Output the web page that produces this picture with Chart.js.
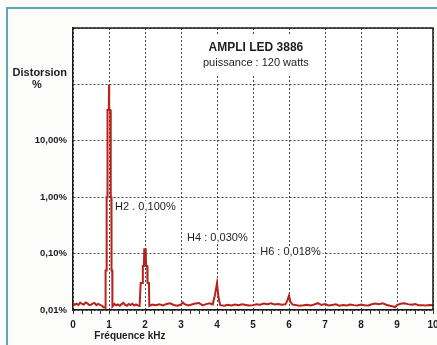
<!DOCTYPE html>
<html>
<head>
<meta charset="utf-8">
<script src="https://cdn.jsdelivr.net/npm/chart.js@4.4.0/dist/chart.umd.min.js"></script>
<style>
  html, body { margin: 0; padding: 0; background: #fcfcfa; }
  #wrap { width: 437px; height: 345px; }
</style>
</head>
<body>
<div id="wrap"><canvas id="thd" width="437" height="345"></canvas></div>
<script>
// spectrum (kHz / % THD)
const freqKHz = [
  0.00, 0.05, 0.10, 0.15, 0.20, 0.25, 0.30, 0.35, 0.40, 0.45, 0.50, 0.55, 0.60, 0.65, 0.70, 0.75, 0.80, 0.85, 0.90,
  0.905, 0.93, 0.935, 0.945, 0.95, 0.96, 0.965, 0.995, 1.00, 1.005, 1.035, 1.04, 1.05, 1.055, 1.065, 1.07, 1.09, 1.095,
  1.15, 1.20, 1.25, 1.30, 1.35, 1.40, 1.45, 1.50, 1.55, 1.60, 1.65, 1.70, 1.75, 1.80, 1.85,
  1.88, 1.93, 1.94, 1.97, 1.98, 2.02, 2.03, 2.06, 2.07, 2.11, 2.12,
  2.20, 2.30, 2.40, 2.50, 2.60, 2.70, 2.80, 2.90, 3.00, 3.05, 3.10, 3.20, 3.30, 3.40, 3.50, 3.60, 3.70, 3.80,
  3.88, 3.94, 4.00, 4.04, 4.09,
  4.20, 4.30, 4.40, 4.50, 4.60, 4.70, 4.80, 4.90, 5.00, 5.10, 5.20, 5.30, 5.40, 5.50, 5.60, 5.70, 5.80,
  5.90, 5.95, 6.00, 6.04, 6.10,
  6.20, 6.30, 6.40, 6.50, 6.60, 6.70, 6.80, 6.90, 7.00, 7.10, 7.20, 7.30, 7.40, 7.50, 7.60, 7.70, 7.80, 7.90,
  8.00, 8.10, 8.20, 8.30, 8.40, 8.50, 8.60, 8.70, 8.80, 8.90, 8.95, 9.00, 9.10, 9.20, 9.30, 9.40, 9.50, 9.60,
  9.70, 9.80, 9.90, 10.00
];
const thdPct = [
  0.0132, 0.0124, 0.0129, 0.0122, 0.0135, 0.0128, 0.0125, 0.0136, 0.0131, 0.0123, 0.0124, 0.0131, 0.0133, 0.0122, 0.0128, 0.0123, 0.0120, 0.0112, 0.0110,
  0.05, 0.05, 1.0, 1.0, 12, 12, 35, 35, 100, 35, 35, 12, 12, 1.0, 1.0, 0.05, 0.05, 0.0115,
  0.0128, 0.0121, 0.0126, 0.0119, 0.0127, 0.0134, 0.0123, 0.0119, 0.0128, 0.0122, 0.0129, 0.0120, 0.0126, 0.0121, 0.0118,
  0.03, 0.03, 0.06, 0.06, 0.12, 0.12, 0.06, 0.06, 0.03, 0.03, 0.0118,
  0.0125, 0.0121, 0.0126, 0.0120, 0.0128, 0.0131, 0.0123, 0.0119, 0.0125, 0.0136, 0.0127, 0.0120, 0.0125, 0.0130, 0.0133, 0.0121, 0.0127, 0.0131,
  0.0125, 0.018, 0.030, 0.017, 0.0122,
  0.0119, 0.0124, 0.0120, 0.0125, 0.0121, 0.0126, 0.0123, 0.0120, 0.0122, 0.0126, 0.0124, 0.0130, 0.0126, 0.0131, 0.0125, 0.0128, 0.0124,
  0.0126, 0.0145, 0.0180, 0.0140, 0.0125,
  0.0122, 0.0119, 0.0121, 0.0124, 0.0120, 0.0125, 0.0132, 0.0123, 0.0127, 0.0120, 0.0123, 0.0126, 0.0119, 0.0122, 0.0120, 0.0125, 0.0122, 0.0120,
  0.0125, 0.0121, 0.0120, 0.0126, 0.0130, 0.0126, 0.0131, 0.0124, 0.0119, 0.0115, 0.0112, 0.0122, 0.0129, 0.0132, 0.0127, 0.0124, 0.0127, 0.0122,
  0.0122, 0.0120, 0.0123, 0.0121
];

const yTickValues = [0.01, 0.1, 1, 10, 100, 1000];
const yTickLabels = ['0,01%', '0,10%', '1,00%', '10,00%', '', ''];
const xTitle = 'Fréquence kHz';
const yTitle = ['Distorsion', '%'];
const chartTitle = ['AMPLI LED 3886', 'puissance : 120 watts'];
const harmonicNotes = ['H2 . 0,100%', 'H4 : 0,030%', 'H6 : 0,018%'];

const points = freqKHz.map((f, i) => ({ x: f, y: thdPct[i] }));

const FONT = '"Liberation Sans", Arial, sans-serif';
const INK = '#1c1c24';

const decor = {
  id: 'decor',
  beforeDraw(chart) {
    const ctx = chart.ctx, a = chart.chartArea;
    ctx.save();
    ctx.fillStyle = '#fcfcfa';
    ctx.fillRect(0, 0, chart.width, chart.height);
    ctx.fillStyle = '#ffffff';
    ctx.fillRect(a.left, a.top, a.right - a.left, a.bottom - a.top);
    // teal page frame
    ctx.strokeStyle = '#5ea7b8';
    ctx.lineWidth = 2;
    ctx.beginPath();
    ctx.moveTo(7, chart.height);
    ctx.lineTo(7, 8);
    ctx.lineTo(chart.width, 8);
    ctx.stroke();
    ctx.restore();
  },
  afterDraw(chart) {
    const ctx = chart.ctx, a = chart.chartArea;
    const xs = chart.scales.x, ys = chart.scales.y;
    ctx.save();
    // plot frame top / right
    ctx.strokeStyle = '#1a1a1a';
    ctx.lineWidth = 1.5;
    ctx.beginPath();
    ctx.moveTo(a.left, a.top);
    ctx.lineTo(a.right, a.top);
    ctx.lineTo(a.right, a.bottom);
    ctx.stroke();

    // title box
    const tx = xs.getPixelForValue(5.08);
    ctx.fillStyle = '#fff';
    ctx.fillRect(tx - 64, a.top + 7, 128, 40);
    ctx.fillStyle = INK;
    ctx.textAlign = 'center';
    ctx.textBaseline = 'middle';
    ctx.font = 'bold 12px ' + FONT;
    ctx.fillText(chartTitle[0], tx, a.top + 20);
    ctx.font = '11px ' + FONT;
    ctx.fillText(chartTitle[1], tx, a.top + 35);

    // y title in place of the 100 % label
    const y100 = ys.getPixelForValue(100);
    ctx.font = 'bold 11px ' + FONT;
    ctx.textAlign = 'right';
    ctx.fillText(yTitle[0], a.left - 6, y100 - 11);
    ctx.textAlign = 'center';
    ctx.fillText(yTitle[1], a.left - 36, y100 + 1);

    // harmonic notes
    ctx.font = '11px ' + FONT;
    ctx.textAlign = 'left';
    const notePos = [[1.17, 0.68], [3.17, 0.19], [5.2, 0.105]];
    harmonicNotes.forEach((t, i) => {
      const px = xs.getPixelForValue(notePos[i][0]);
      const py = ys.getPixelForValue(notePos[i][1]);
      const w = ctx.measureText(t).width;
      ctx.fillStyle = '#fff';
      ctx.fillRect(px - 2, py - 6, w + 4, 12);
      ctx.fillStyle = INK;
      ctx.fillText(t, px, py);
    });

    // x title
    ctx.font = 'bold 10px ' + FONT;
    ctx.textAlign = 'center';
    ctx.fillText(xTitle, xs.getPixelForValue(1.58), a.bottom + 26);
    ctx.restore();
  }
};

new Chart(document.getElementById('thd'), {
  type: 'line',
  data: {
    datasets: [{
      data: points,
      borderColor: '#b8221a',
      borderWidth: 2,
      pointRadius: 0,
      tension: 0,
      fill: false
    }]
  },
  options: {
    responsive: false,
    devicePixelRatio: 1,
    animation: false,
    plugins: { legend: { display: false }, tooltip: { enabled: false } },
    layout: { padding: { top: 28, right: 4, left: 0, bottom: 0 } },
    scales: {
      x: {
        type: 'linear',
        min: 0,
        max: 10,
        ticks: {
          stepSize: 0.25,
          autoSkip: false,
          maxRotation: 0,
          padding: 5,
          color: INK,
          font: { family: FONT, size: 10, weight: 'bold' },
          callback: v => Number.isInteger(v) ? String(v) : ''
        },
        grid: {
          color: c => Number.isInteger(c.tick.value) ? '#4a4a4a' : 'rgba(0,0,0,0)',
          tickColor: '#333',
          tickLength: 4,
          lineWidth: 1
        },
        border: { color: '#1a1a1a', width: 1.5, dash: [2, 2] },
        afterFit(s) { s.height = 35; s.paddingLeft = 0; s.paddingRight = 0; }
      },
      y: {
        type: 'logarithmic',
        min: 0.01,
        max: 1000,
        afterBuildTicks(s) { s.ticks = yTickValues.map(v => ({ value: v })); },
        ticks: {
          padding: 6,
          color: INK,
          font: { family: FONT, size: 9.5, weight: 'bold' },
          callback: v => yTickLabels[yTickValues.indexOf(v)] ?? ''
        },
        grid: { color: '#4a4a4a', lineWidth: 1, drawTicks: false },
        border: { color: '#1a1a1a', width: 1.5, dash: [2, 2] },
        afterFit(s) { s.width = 73; s.paddingTop = 0; s.paddingBottom = 0; }
      }
    }
  },
  plugins: [decor]
});
</script>
</body>
</html>
